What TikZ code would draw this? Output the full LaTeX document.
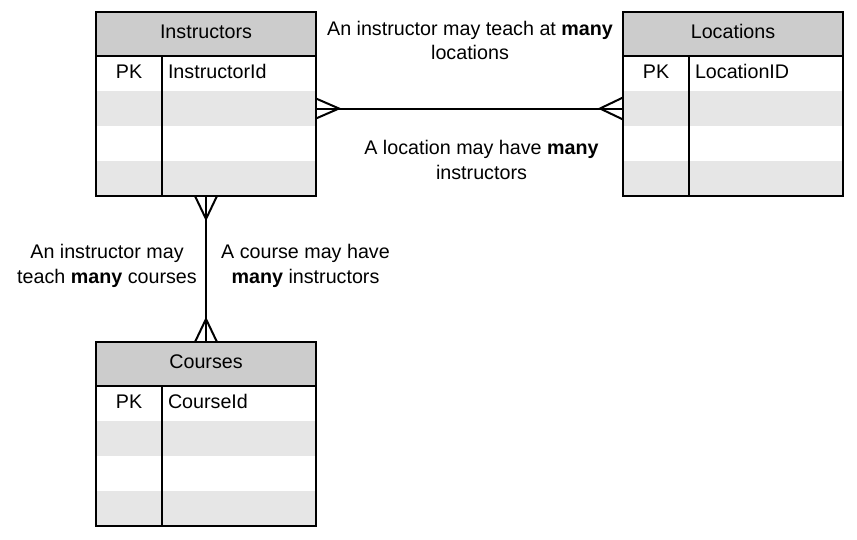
\documentclass[tikz,border=0pt]{standalone}
\usepackage{fontspec}
\setmainfont{Liberation Sans}
\usepackage{xcolor}
\usetikzlibrary{calc}
\usetikzlibrary{positioning}

\definecolor{headgray}{HTML}{CCCCCC}
\definecolor{rowgray}{HTML}{E6E6E6}

% one table: name, title, key field, top left corner
\newcommand{\ertable}[5]{
  \node[headcell] (#1) at (#4,#5) {};
  \node[rowcell, below=0 of #1] (#1-1) {};
  \node[rowcell, fill=rowgray, below=0 of #1-1] (#1-2) {};
  \node[rowcell, below=0 of #1-2] (#1-3) {};
  \node[rowcell, fill=rowgray, below=0 of #1-3] (#1-4) {};
  \node[anchor=base] (#1-title) at ($(#1.north)+(0,26)$) {#2};
  \node[anchor=base] (#1-pk) at ($(#1-1.north west)+(33,22)$) {PK};
  \node[anchor=base west] (#1-key) at ($(#1-1.north west)+(72,22)$) {#3};
  \draw[border] (#1.south west) -- (#1.south east);
  \draw[border] ($(#1-1.north west)+(66,0)$) -- ($(#1-4.south west)+(66,0)$);
  \draw[border] (#1.north west) rectangle (#1-4.south east);
}

\begin{document}
\begin{tikzpicture}[x=1pt, y=-1pt,
    every node/.append style={font=\fontsize{19.7}{24.4}\selectfont, inner sep=0, outer sep=0},
    headcell/.style={rectangle, fill=headgray, minimum width=220, minimum height=44, anchor=north west},
    rowcell/.style={rectangle, fill=white, minimum width=220, minimum height=35},
    border/.style={line width=2.2pt},
    link/.style={line width=2pt},
    note/.style={align=center}]

    \useasboundingbox (0,0) rectangle (857,539);

    % Define nodes
    \ertable{instr}{Instructors}{InstructorId}{96}{12}
    \ertable{loc}{Locations}{LocationID}{623}{12}
    \ertable{course}{Courses}{CourseId}{96}{342}

    \node[note] (teachat) at (470,40.5) {An instructor may teach at \textbf{many}\\locations};
    \node[note] (havelocs) at (481.5,160) {A location may have \textbf{many}\\instructors};
    \node[note] (teaches) at (107,266) {An instructor may\\teach \textbf{many} courses};
    \node[note] (havecourses) at (305.5,266) {A course may have\\\textbf{many} instructors};

    % Connect the nodes
    \draw[link] (instr-2.east) -- (loc-2.west);
    \draw[link] (instr-4.south) -- (course.north);

    % crow's feet
    \draw[link] ($(instr-2.east)+(0,-10)$) -- ++(23,10) -- ++(-23,10);
    \draw[link] ($(loc-2.west)+(0,-11)$) -- ++(-23,11) -- ++(23,11);
    \draw[link] ($(instr-4.south)+(-11,0)$) -- ++(11,23) -- ++(11,-23);
    \draw[link] ($(course.north)+(-11,0)$) -- ++(11,-23) -- ++(11,23);

\end{tikzpicture}
\end{document}
